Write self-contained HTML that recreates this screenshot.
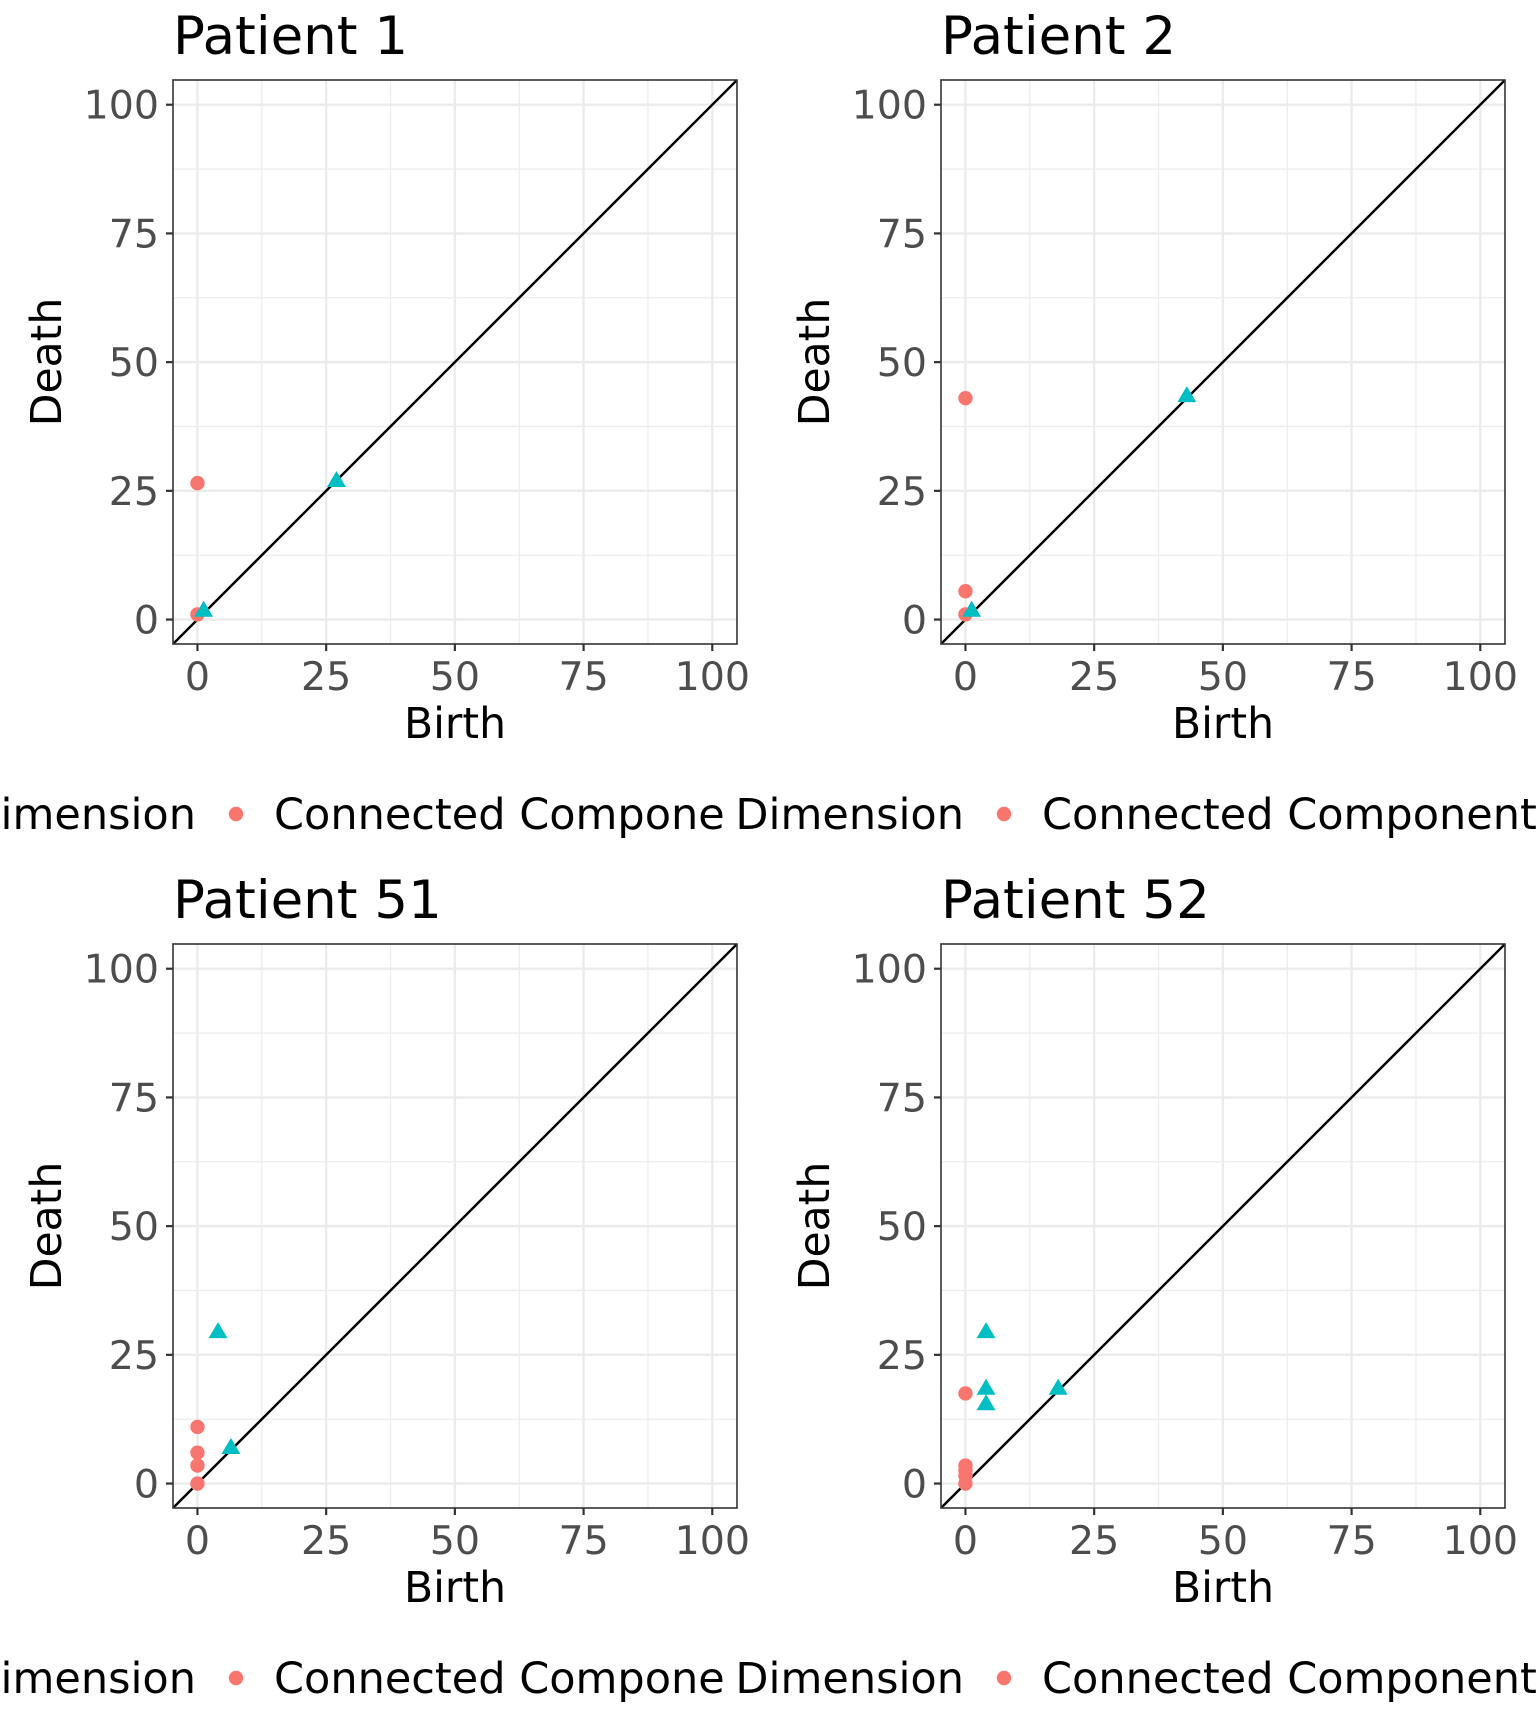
<!DOCTYPE html>
<html><head><meta charset="utf-8"><style>
html,body{margin:0;padding:0;background:#fff;width:1536px;height:1728px;overflow:hidden}
svg{display:block}
text{font-family:"DejaVu Sans","Liberation Sans",sans-serif}
</style></head><body>
<svg id="root" width="1536" height="1728" viewBox="0 0 1536 1728"></svg>
<script>
const panelTitles = ["Patient 1","Patient 2","Patient 51","Patient 52"];
const circleBirth = [[0,0],[0,0,0],[0,0,0,0],[0,0,0,0,0]];
const circleDeath = [[26.5,1],[43,5.5,1],[11,6,3.5,0],[17.5,3.5,2.5,1.5,0]];
const triBirth = [[27,1.2],[43,1.2],[4,6.5],[4,4,4,18]];
const triDeath = [[27,1.8],[43.5,1.8],[29.5,7],[29.5,18.5,15.5,18.5]];
const tickValues = [0,25,50,75,100];
const tickLabels = ["0","25","50","75","100"];
const minorValues = [12.5,37.5,62.5,87.5];

const NS="http://www.w3.org/2000/svg";
const root=document.getElementById('root');
function mk(tag,attrs,parent){const e=document.createElementNS(NS,tag);for(const k in attrs)e.setAttribute(k,attrs[k]);parent.appendChild(e);return e;}
const defs=mk('defs',{},root);
const L=173,R=737,T=80,B=644;
const xMin=-4.75,xMax=104.8,yMin=-4.75,yMax=104.8;
const sx=v=>L+(v-xMin)/(xMax-xMin)*(R-L);
const sy=v=>B-(v-yMin)/(yMax-yMin)*(B-T);
const lc=mk('clipPath',{id:'legclip'},defs);mk('rect',{x:-800,y:0,width:1526,height:864},lc);

panelTitles.forEach((title,p)=>{
  const ox=(p%2)*768, oy=Math.floor(p/2)*864;
  const pcl=mk('clipPath',{id:'plot'+p},defs);mk('rect',{x:L,y:T,width:R-L,height:B-T},pcl);
  const g=mk('g',{transform:`translate(${ox},${oy})`},root);
  
  
  const t=mk('text',{x:L,y:54,'font-size':53,fill:'#000'},g);t.textContent=title;
  
  
  const grid=mk('g',{},g);
  
  
  minorValues.forEach(v=>{
    mk('line',{x1:sx(v),x2:sx(v),y1:T,y2:B,stroke:'#ebebeb','stroke-width':1.2},grid);
    mk('line',{x1:L,x2:R,y1:sy(v),y2:sy(v),stroke:'#ebebeb','stroke-width':1.2},grid);
  });
  tickValues.forEach((v,i)=>{
    mk('line',{x1:sx(v),x2:sx(v),y1:T,y2:B,stroke:'#ebebeb','stroke-width':2.4},grid);
    mk('line',{x1:L,x2:R,y1:sy(v),y2:sy(v),stroke:'#ebebeb','stroke-width':2.4},grid);
    mk('line',{x1:sx(v),x2:sx(v),y1:B,y2:B+7,stroke:'#333','stroke-width':2.2},g);
    mk('line',{x1:L-7,x2:L,y1:sy(v),y2:sy(v),stroke:'#333','stroke-width':2.2},g);
    const xl=mk('text',{x:sx(v),y:690,'font-size':39.5,fill:'#4d4d4d','text-anchor':'middle'},g);xl.textContent=tickLabels[i];
    
    
    const yl=mk('text',{x:159,y:sy(v)+14,'font-size':39.5,fill:'#4d4d4d','text-anchor':'end'},g);yl.textContent=tickLabels[i];
    
    
  });
  const plot=mk('g',{'clip-path':`url(#plot${p})`},g);
  const dl=mk('line',{x1:sx(xMin),y1:sy(xMin),x2:sx(xMax),y2:sy(xMax),stroke:'#000','stroke-width':2.4},plot);
  
  
  circleBirth[p].forEach((b,i)=>{
    const c=mk('circle',{cx:sx(b),cy:sy(circleDeath[p][i]),r:7.2,fill:'#F8766D'},plot);
    
    
  });
  triBirth[p].forEach((b,i)=>{
    const x=sx(b),y=sy(triDeath[p][i]);
    const tr=mk('polygon',{points:`${x},${y-9.5} ${x-9.5},${y+6.5} ${x+9.5},${y+6.5}`,fill:'#00BFC4'},plot);
    
    
  });
  const fr=mk('rect',{x:L,y:T,width:R-L,height:B-T,fill:'none',stroke:'#333','stroke-width':1.6},g);
  
  
  const xt=mk('text',{x:455,y:738,'font-size':42.5,fill:'#000','text-anchor':'middle'},g);xt.textContent='Birth';
  
  
  const yt=mk('text',{x:0,y:0,'font-size':42.5,fill:'#000','text-anchor':'middle',transform:'translate(61,362) rotate(-90)'},g);yt.textContent='Death';
  
  
  const lg=mk('g',{},g);
  if(p%2===0) lg.setAttribute('clip-path','url(#legclip)');
  
  
  const lt=mk('text',{x:196,y:829,'font-size':43,fill:'#000','text-anchor':'end'},lg);lt.textContent='Dimension';
  
  
  const ld=mk('circle',{cx:236,cy:814,r:7.2,fill:'#F8766D'},lg);
  
  
  const le=mk('text',{x:274,y:829,'font-size':43,fill:'#000'},lg);le.textContent='Connected Component';
  
  
});
</script>
</body></html>
